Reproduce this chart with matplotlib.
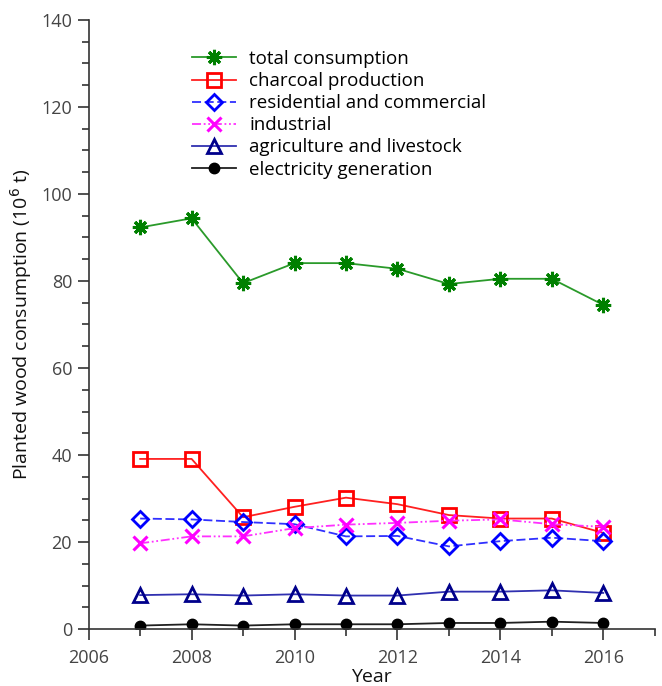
import matplotlib.pyplot as plt
from matplotlib.ticker import MultipleLocator

plt.rcParams['font.family'] = ['Open Sans', 'DejaVu Sans']

years = [2007, 2008, 2009, 2010, 2011, 2012, 2013, 2014, 2015, 2016]
total = [92.3, 94.4, 79.5, 84.1, 84.1, 82.8, 79.3, 80.5, 80.5, 74.5]
charcoal = [39.1, 39.1, 25.7, 28.1, 30.2, 28.7, 26.2, 25.4, 25.4, 22.1]
residential = [25.4, 25.2, 24.6, 24.1, 21.3, 21.4, 19.0, 20.2, 21.0, 20.2]
industrial = [19.7, 21.3, 21.3, 23.2, 24.0, 24.4, 24.9, 25.2, 24.1, 23.5]
agriculture = [7.8, 8.0, 7.7, 8.0, 7.7, 7.7, 8.6, 8.6, 8.9, 8.3]
electricity = [0.8, 1.1, 0.8, 1.1, 1.1, 1.1, 1.4, 1.4, 1.7, 1.4]

fig = plt.figure(figsize=(6.62, 6.86), dpi=100)
ax = fig.add_axes([0.134, 0.083, 0.855, 0.888])

ax.plot(years, total, color='#2a9a2a', lw=1.3, marker=(8, 2, 0), ms=11,
        mec='#008000', mew=2.2, label='total consumption')
ax.plot(years, charcoal, color='#ff2020', lw=1.3, marker='s', ms=10.5,
        mfc='none', mec='#ff0000', mew=2.0, label='charcoal production')
ax.plot(years, residential, color='#3030ff', lw=1.3, ls=(0, (5, 2)), marker='D', ms=8.5,
        mfc='none', mec='#0000ff', mew=2.0, label='residential and commercial')
ax.plot(years, industrial, color='#ff30ff', lw=1.3, ls=(0, (5, 1.5, 1, 1.5, 1, 1.5)), marker='x', ms=10,
        mec='#ff00ff', mew=2.2, label='industrial')
ax.plot(years, agriculture, color='#3030b0', lw=1.3, marker='^', ms=9.5,
        mfc='none', mec='#00008b', mew=2.0, label='agriculture and livestock')
ax.plot(years, electricity, color='#202020', lw=1.3, marker='o', ms=7.5,
        mfc='black', mec='black', label='electricity generation')

ax.set_xlim(2006, 2017)
ax.set_ylim(0, 140)
ax.xaxis.set_major_locator(MultipleLocator(2))
ax.xaxis.set_minor_locator(MultipleLocator(1))
ax.yaxis.set_major_locator(MultipleLocator(20))
ax.yaxis.set_minor_locator(MultipleLocator(5))

for side in ['top', 'right']:
    ax.spines[side].set_visible(False)
for side in ['left', 'bottom']:
    ax.spines[side].set_color('#333333')
    ax.spines[side].set_linewidth(1.2)
ax.tick_params(which='major', length=8, width=1.2, color='#333333',
               labelsize=13, labelcolor='#444444')
ax.tick_params(which='minor', length=5, width=1.2, color='#333333')
ax.tick_params(axis='x', which='major', pad=6)
ax.tick_params(axis='y', which='major', pad=4)

ax.set_xlabel('Year', fontsize=14, color='#111111', labelpad=1)
ax.set_ylabel('Planted wood consumption (10$^6$ t)', fontsize=14, color='#111111', labelpad=5)

ax.legend(loc='upper left', bbox_to_anchor=(0.166, 0.966), frameon=False,
          fontsize=13.5, labelspacing=0.22, handlelength=2.35, handletextpad=0.7,
          borderpad=0)

fig.savefig('out.png', dpi=100)
